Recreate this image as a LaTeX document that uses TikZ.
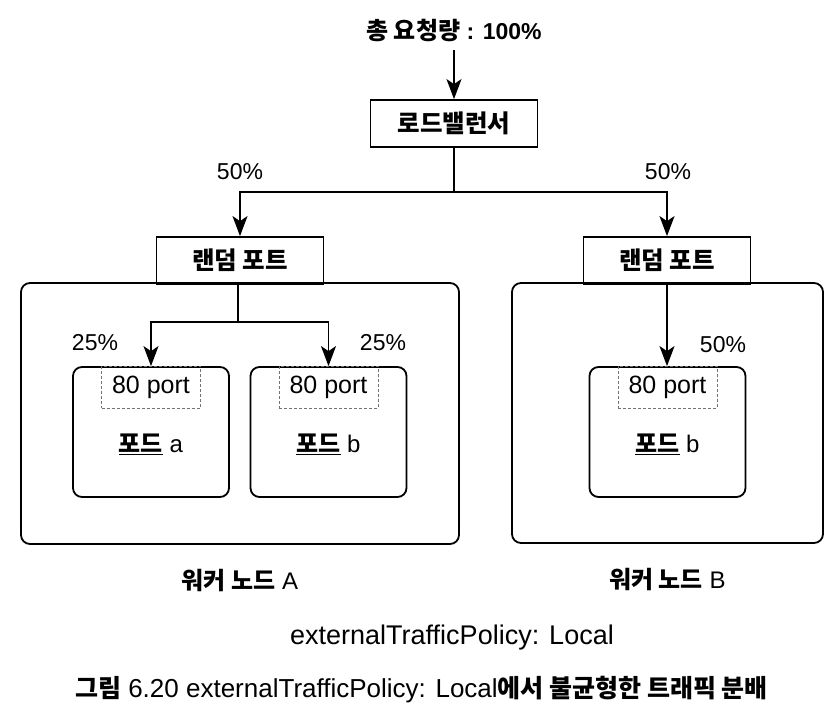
\documentclass[tikz,border=0pt]{standalone}
\usepackage{fontspec}
\setmainfont{Liberation Sans}
\newfontfamily\krfont{Noto Sans CJK KR}
\usetikzlibrary{arrows.meta, positioning}

\newcommand{\kr}[1]{{\krfont\bfseries #1}}
\newcommand{\fs}[1]{\fontsize{#1}{#1}\selectfont}

\begin{document}
\begin{tikzpicture}[x=1pt, y=-1pt]
  \tikzset{
    lbbox/.style={draw, line width=1.8pt, minimum width=167pt, minimum height=47pt,
                  inner sep=0pt, font=\krfont\bfseries\fs{24.5}},
    worker/.style={draw, line width=1.8pt, rounded corners=9pt, inner sep=0pt},
    pod/.style={draw, line width=1.8pt, rounded corners=9pt, minimum width=156pt,
                minimum height=130pt, inner sep=0pt},
    portbox/.style={draw=black!55, densely dashed, line width=0.6pt, minimum width=99pt,
                    minimum height=42pt, inner sep=0pt, font=\fs{25}},
    podlab/.style={font=\fs{24}},
    pct/.style={font=\fs{23}},
    wlab/.style={font=\fs{24}},
    flow/.style={-{Stealth[length=20pt, width=15pt, inset=5pt]}, line width=1.4pt},
    link/.style={line width=1.4pt},
  }
  \useasboundingbox (0,0) rectangle (838,723);

  % ── Top: total traffic and load balancer ─────────────────────
  \node[font=\bfseries\fs{23}] (total) at (454,30) {\kr{\fs{24}총 요청량} : 100\%};
  \node[lbbox] (lb) at (454,123.5) {로드밸런서};
  \draw[flow] ([yshift=-5pt]total.south) -- (lb.north);

  % ── Worker nodes ─────────────────────────────────────────────
  \node[worker, minimum width=438pt, minimum height=261pt] (wA) at (240,413.5) {};
  \node[worker, minimum width=311pt, minimum height=260pt] (wB) at (667.5,413) {};

  % random ports
  \node[lbbox] (randA) at (240,260.5) {랜덤 포트};
  \node[lbbox] (randB) at (667,260.5) {랜덤 포트};

  \coordinate (split) at (454,192);
  \draw[link] (lb.south) -- (split);
  \draw[flow] (split) -| (randA.north);
  \draw[flow] (split) -| (randB.north);
  \node[pct] (pA) at (240,172) {50\%};
  \node[pct] (pB) at (668,172) {50\%};

  % ── Pods on worker A ─────────────────────────────────────────
  \node[pod] (podA) at (151,432) {};
  \node[pod] (podB) at (328.5,432) {};
  \node[portbox, below=0pt of podA.north] (portA) {80 port};
  \node[portbox, below=0pt of podB.north] (portB) {80 port};
  \node[podlab, below=22pt of portA] (labA) {\underline{\kr{포드}} a};
  \node[podlab, below=22pt of portB] (labB) {\underline{\kr{포드}} b};

  \coordinate (splitA) at (238,322);
  \draw[link] (splitA |- randA.south) -- (splitA);
  \draw[flow] (splitA) -| (podA.north);
  \draw[flow] (splitA) -| (podB.north);
  \node[pct] (qA) at (95,343) {25\%};
  \node[pct] (qB) at (383,343) {25\%};

  % ── Pod on worker B ──────────────────────────────────────────
  \node[pod] (podC) at (667.5,432) {};
  \node[portbox, below=0pt of podC.north] (portC) {80 port};
  \node[podlab, below=22pt of portC] (labC) {\underline{\kr{포드}} b};
  \draw[flow] (randB.south) -- (randB.south |- podC.north);
  \node[pct] (qC) at (723,345) {50\%};

  % ── Labels ───────────────────────────────────────────────────
  \node[wlab, below=21pt of wA] (nameA) {\kr{워커 노드} A};
  \node[wlab, below=21pt of wB] (nameB) {\kr{워커 노드} B};

  \node[font=\fs{27}] (policy) at (452,638) {externalTrafficPolicy: Local};
  \node[font=\fs{26}] (caption) at (421.5,690)
    {\kr{\fs{25}그림} 6.20 externalTrafficPolicy: Local\kr{\fs{25}에서 불균형한 트래픽 분배}};
\end{tikzpicture}
\end{document}
